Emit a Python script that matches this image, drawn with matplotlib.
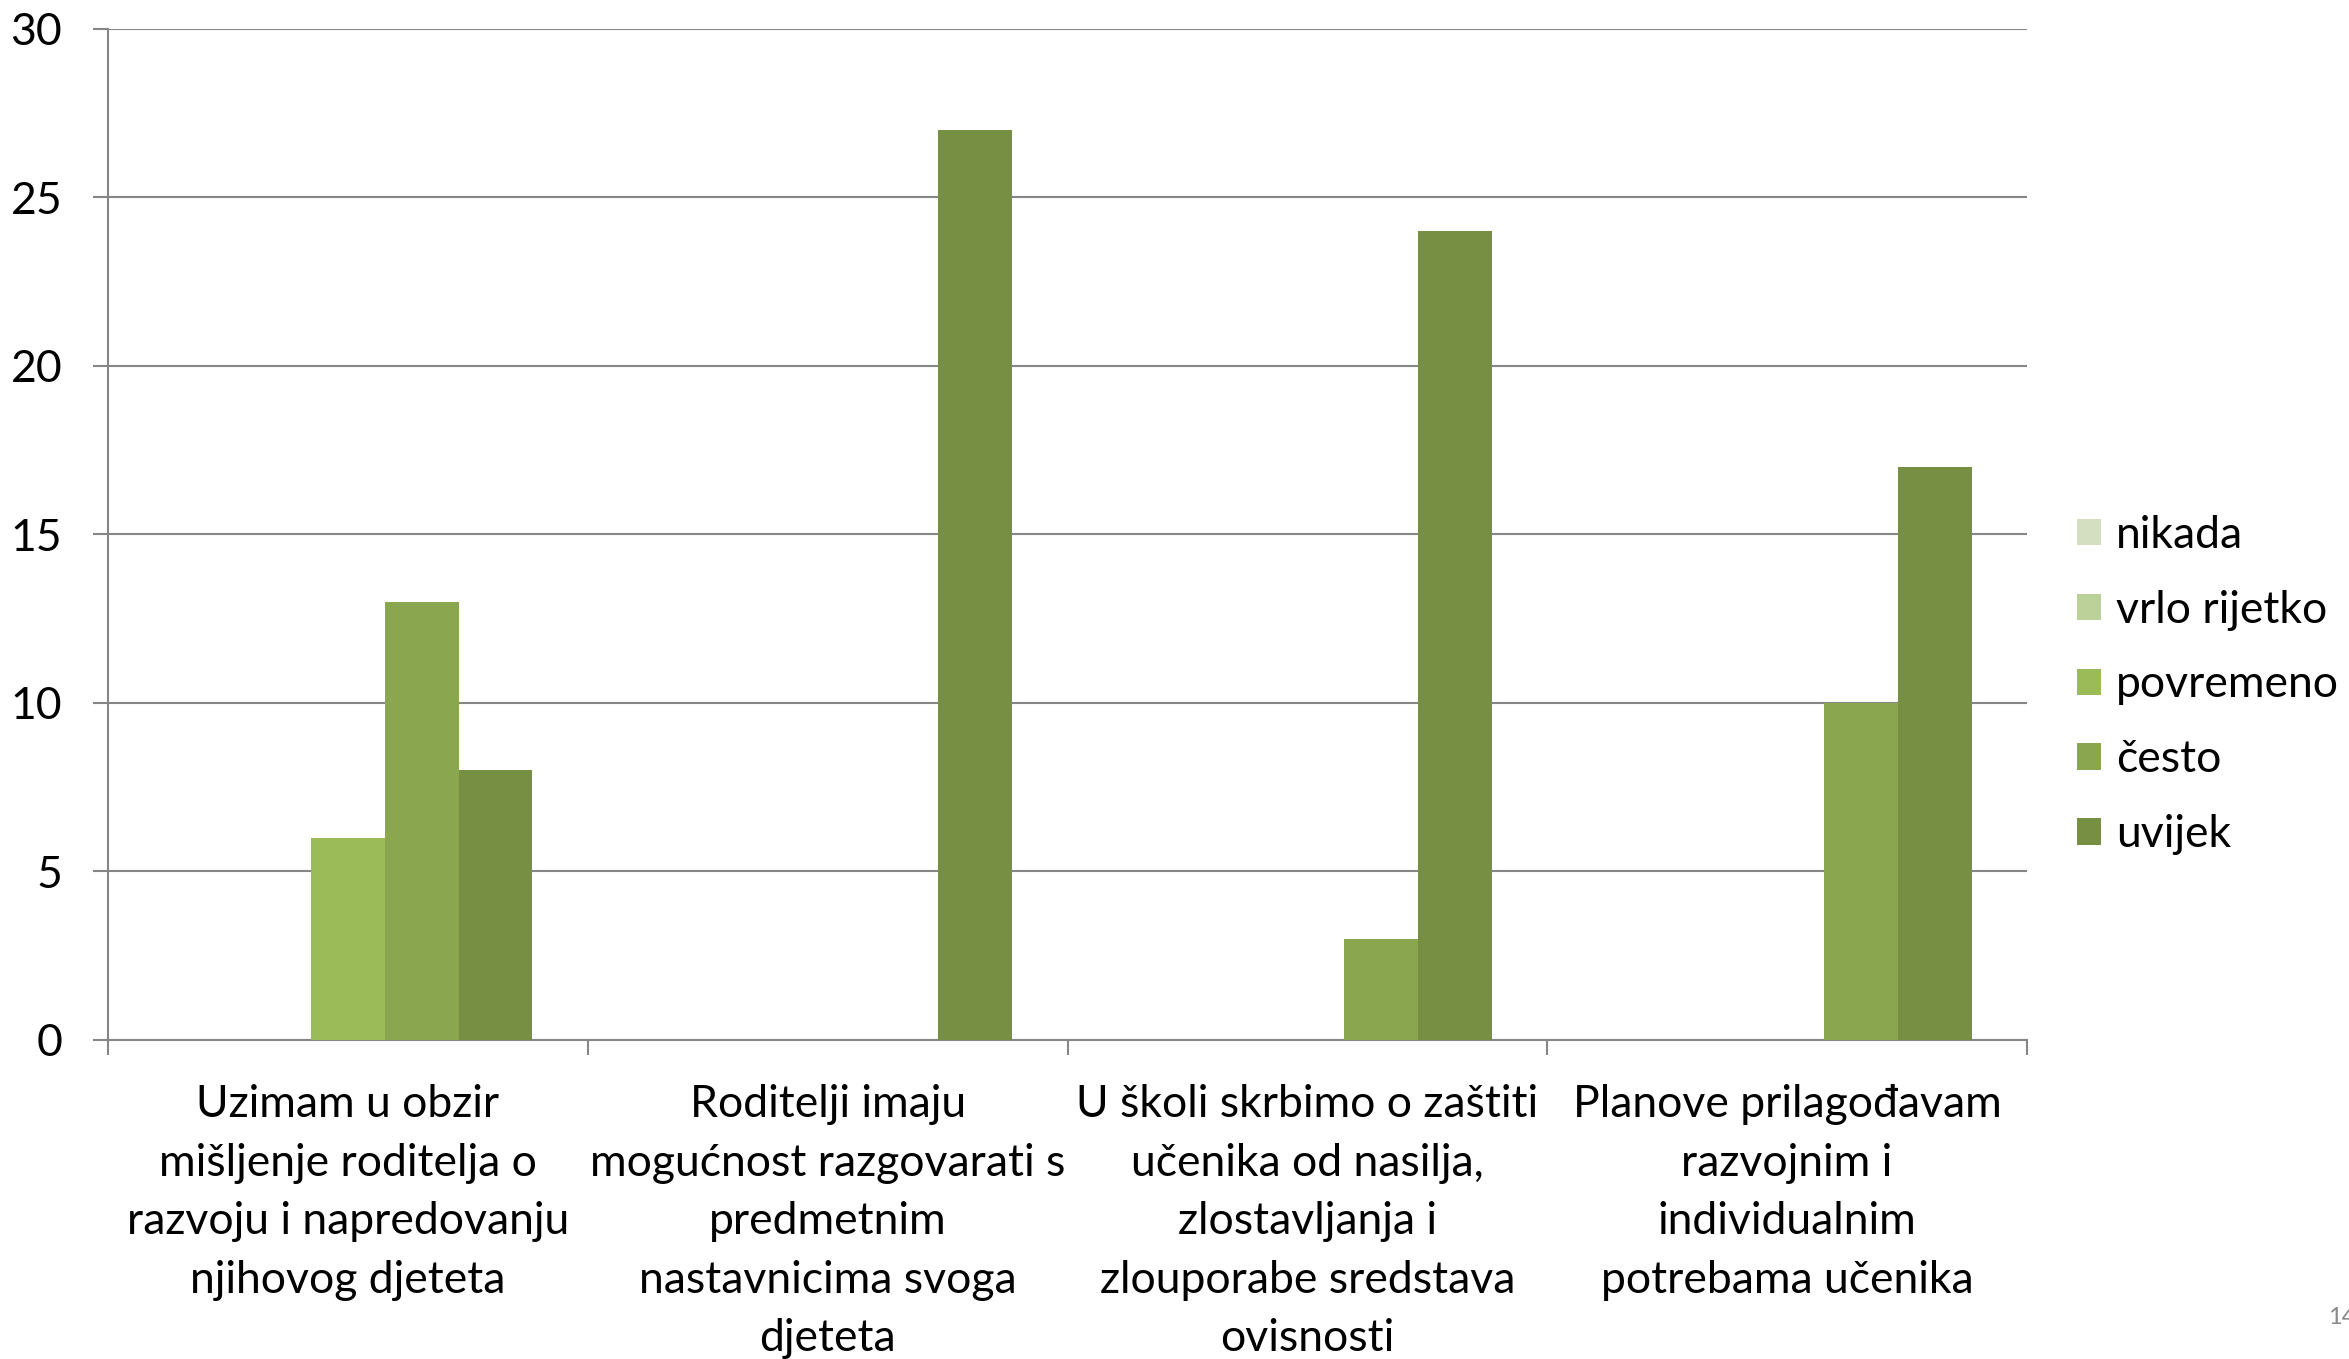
import matplotlib
matplotlib.use("Agg")
import matplotlib.pyplot as plt
import numpy as np

categories = [
    "Uzimam u obzir\nmišljenje roditelja o\nrazvoju i napredovanju\nnjihovog djeteta",
    "Roditelji imaju\nmogućnost razgovarati s\npredmetnim\nnastavnicima svoga\ndjeteta",
    "U školi skrbimo o zaštiti\nučenika od nasilja,\nzlostavljanja i\nzlouporabe sredstava\novisnosti",
    "Planove prilagođavam\nrazvojnim i\nindividualnim\npotrebama učenika",
]
series_names = ["nikada", "vrlo rijetko", "povremeno", "često", "uvijek"]
nikada = [0, 0, 0, 0]
vrlo_rijetko = [0, 0, 0, 0]
povremeno = [6, 0, 0, 0]
cesto = [13, 0, 3, 10]
uvijek = [8, 27, 24, 17]
yticks = [0, 5, 10, 15, 20, 25, 30]

colors = ["#D3DFC0", "#BCD09A", "#9BBB59", "#8AA64F", "#768F43"]
series = [nikada, vrlo_rijetko, povremeno, cesto, uvijek]

plt.rcParams['font.family'] = ['Lato', 'DejaVu Sans']
fig = plt.figure(figsize=(23.49, 13.59), dpi=100)
ax = fig.add_axes([108/2349, 1 - 1040/1359, (2027-108)/2349, (1040-28.5)/1359])

n = len(series)
w = 1 / (n + 1.5)
x = np.arange(len(categories))
for i, (vals, name, c) in enumerate(zip(series, series_names, colors)):
    ax.bar(x + (i - (n - 1) / 2) * w, vals, width=w, color=c, label=name, zorder=3)

ax.set_xlim(-0.5, len(categories) - 0.5)
ax.set_ylim(0, 30)
ax.set_yticks(yticks)
ax.set_yticklabels([str(t) for t in yticks])
ax.yaxis.grid(True, color="#868686", linewidth=1.5, zorder=0)
ax.set_axisbelow(True)

for s in ["top", "right"]:
    ax.spines[s].set_visible(False)
for s in ["left", "bottom"]:
    ax.spines[s].set_color("#868686")
    ax.spines[s].set_linewidth(1.5)

ax.set_xticks(x)
ax.set_xticklabels(categories, fontsize=32, linespacing=1.53, va="top")
ax.set_xticks(np.arange(len(categories) + 1) - 0.5, minor=True)
ax.tick_params(axis="x", which="major", length=0, pad=32)
ax.tick_params(axis="x", which="minor", length=11, width=1.5, color="#868686")
ax.tick_params(axis="y", length=11, width=1.5, color="#868686", labelsize=32, pad=22)

leg = ax.legend(loc="center left", bbox_to_anchor=(2059/2349, 1 - 685/1359),
                bbox_transform=fig.transFigure, frameon=False, fontsize=32,
                handlelength=0.54, handleheight=0.54, handletextpad=0.34,
                labelspacing=0.76, borderaxespad=0)

fig.text(2328/2349, 1 - 1318/1359, "14", color="#898989", fontsize=17, ha="left", va="center")

fig.savefig("out.png", dpi=100)
